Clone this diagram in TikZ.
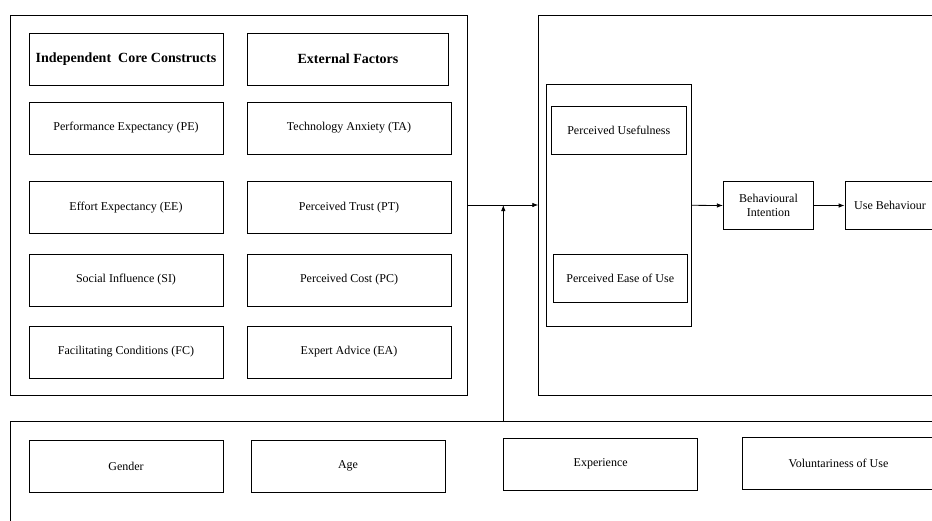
\documentclass[tikz,border=0pt]{standalone}
\usepackage{fontspec}
\setmainfont{Liberation Serif}
\usetikzlibrary{arrows.meta}
\begin{document}
\begin{tikzpicture}[x=1pt,y=-1pt,
  panel/.style={draw, line width=0.8pt, inner sep=0pt},
  box/.style={draw, line width=0.8pt, inner sep=2pt, align=center, font=\fontsize{12}{14.5}\selectfont},
  headbox/.style={box, font=\fontsize{14}{16}\selectfont\bfseries},
  arr/.style={line width=0.8pt, -{Latex[length=6pt,width=4.5pt]}}]
\useasboundingbox (0,0) rectangle (932,520);
\clip (0,0) rectangle (932,520);
% panels
\node[panel, minimum width=457pt, minimum height=380pt] (leftp) at (238.5,205) {};
\node[panel, minimum width=461.3pt, minimum height=380pt] (rightp) at (769.35,205) {};
\node[panel, minimum width=990pt, minimum height=199pt] (botp) at (505,520.5) {};
% left column
\node[headbox, minimum width=194pt, minimum height=52pt] (icc) at (126,59) {Independent\ \ Core Constructs};
\node[headbox, minimum width=201pt, minimum height=52pt] (ef) at (348,59) {External Factors};
\node[box, minimum width=194pt, minimum height=52pt] (pe) at (126,128) {Performance Expectancy (PE)};
\node[box, minimum width=204pt, minimum height=52pt] (ta) at (349,128) {Technology Anxiety (TA)};
\node[box, minimum width=194pt, minimum height=52pt] (ee) at (126,207.5) {Effort Expectancy (EE)};
\node[box, minimum width=204pt, minimum height=52pt] (pt) at (349,207.5) {Perceived Trust (PT)};
\node[box, minimum width=194pt, minimum height=52pt] (si) at (126,280) {Social Influence (SI)};
\node[box, minimum width=204pt, minimum height=52pt] (pc) at (349,280) {Perceived Cost (PC)};
\node[box, minimum width=194pt, minimum height=52pt] (fc) at (126,352) {Facilitating Conditions (FC)};
\node[box, minimum width=204pt, minimum height=52pt] (ea) at (349,352) {Expert Advice (EA)};
% right side
\node[box, minimum width=144.6pt, minimum height=241.3pt] (inner) at (619,205.3) {};
\node[box, minimum width=134.3pt, minimum height=48pt] (pu) at (618.8,130) {Perceived Usefulness};
\node[box, minimum width=134.7pt, minimum height=48pt] (peou) at (620.3,278) {Perceived Ease of Use};
\node[box, minimum width=90.4pt, minimum height=47.6pt] (bi) at (768.5,205.5) {Behavioural\\Intention};
\node[box, minimum width=90pt, minimum height=47.6pt] (ub) at (890,205.5) {Use Behaviour};
% bottom
\node[box, minimum width=194pt, minimum height=52pt] (gender) at (126,466) {Gender};
\node[box, minimum width=194pt, minimum height=52pt] (age) at (348,466) {Age};
\node[box, minimum width=194pt, minimum height=52pt] (exp) at (600.7,464) {Experience};
\node[box, minimum width=193pt, minimum height=52pt] (vol) at (838.5,463) {Voluntariness of Use};
% connectors
\coordinate (j) at (503.3,205);
\draw[arr] (leftp.east) -- (rightp.west);
\draw[arr] (j |- botp.north) -- (j);
\draw[arr] (inner.east) -- (bi.west);
\draw[arr] (bi.east) -- (ub.west);
\end{tikzpicture}
\end{document}
